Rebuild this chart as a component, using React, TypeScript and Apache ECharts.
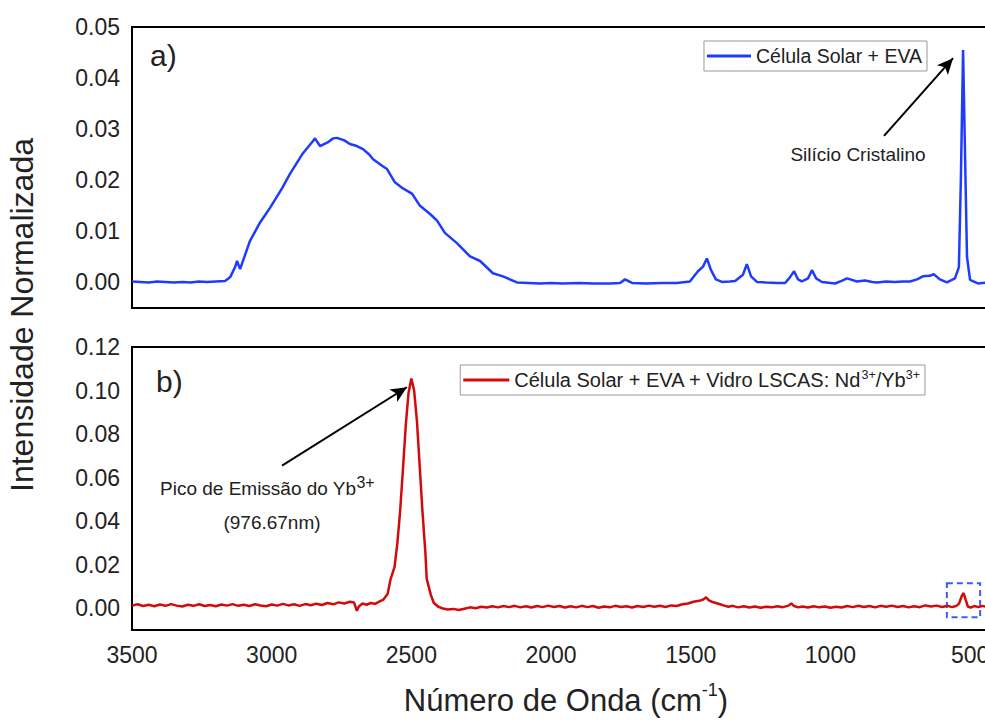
import React, { useEffect, useRef } from 'react';
import * as echarts from 'echarts';

const FONT = '"Liberation Sans", Arial, sans-serif';

const blueName = 'Célula Solar + EVA';
const redName = 'Célula Solar + EVA + Vidro LSCAS: Nd3+/Yb3+';

const xTicks = [3500, 3000, 2500, 2000, 1500, 1000, 500];
const topYTicks = [0, 0.01, 0.02, 0.03, 0.04, 0.05];
const bottomYTicks = [0, 0.02, 0.04, 0.06, 0.08, 0.1, 0.12];

// Top panel: Célula Solar + EVA (wavenumber, normalized intensity)
const blueData: [number, number][] = [
  [3500, 0.0002], [3470, 0.0001], [3440, 0.0000], [3410, 0.0002], [3380, 0.0001], [3350, 0.0000],
  [3320, 0.0001], [3290, 0.0000], [3260, 0.0002], [3230, 0.0001], [3200, 0.0002], [3167, 0.0003],
  [3149, 0.0010], [3131, 0.0030], [3124, 0.0042], [3113, 0.0026], [3078, 0.0081], [3042, 0.0117],
  [3006, 0.0146], [2963, 0.0184], [2934, 0.0213], [2888, 0.0253], [2852, 0.0277], [2845, 0.0282],
  [2827, 0.0267], [2800, 0.0274], [2780, 0.0282], [2766, 0.0283], [2740, 0.0278], [2720, 0.0271],
  [2695, 0.0267], [2673, 0.0261], [2650, 0.0250], [2637, 0.0241], [2601, 0.0227], [2587, 0.0222],
  [2559, 0.0196], [2530, 0.0184], [2498, 0.0174], [2469, 0.0150], [2433, 0.0134], [2408, 0.0121],
  [2380, 0.0097], [2337, 0.0077], [2290, 0.0051], [2254, 0.0042], [2208, 0.0018], [2172, 0.0012],
  [2122, 0.0000], [2080, -0.0001], [2040, -0.0002], [2000, -0.0001], [1960, -0.0002], [1900, -0.0001],
  [1850, -0.0002], [1789, -0.0002], [1753, -0.0001], [1735, 0.0006], [1710, -0.0001], [1660, -0.0002],
  [1600, -0.0001], [1550, -0.0001], [1503, 0.0002], [1474, 0.0022], [1456, 0.0031], [1442, 0.0047],
  [1428, 0.0025], [1410, 0.0006], [1388, 0.0001], [1360, 0.0002], [1341, 0.0003], [1313, 0.0015],
  [1299, 0.0036], [1284, 0.0012], [1263, 0.0001], [1230, 0.0000], [1190, -0.0001], [1162, -0.0001],
  [1145, 0.0010], [1130, 0.0022], [1116, 0.0006], [1102, 0.0002], [1080, 0.0008], [1066, 0.0024],
  [1051, 0.0008], [1030, 0.0001], [983, -0.0002], [960, 0.0003], [940, 0.0008], [905, 0.0002],
  [876, 0.0004], [850, 0.0001], [833, 0.0000], [800, 0.0002], [769, 0.0001], [740, 0.0002],
  [715, 0.0002], [690, 0.0006], [669, 0.0012], [644, 0.0013], [630, 0.0016], [608, 0.0006],
  [583, 0.0000], [554, 0.0008], [540, 0.0030], [533, 0.0200], [525, 0.0455], [518, 0.0250],
  [511, 0.0050], [500, 0.0005], [472, -0.0002], [440, 0.0000], [420, 0.0000], [400, 0.0000]
];

// Bottom panel: Célula Solar + EVA + Vidro LSCAS: Nd/Yb
const redData: [number, number][] = [
  [3500, 0.0012], [3480, 0.0018], [3460, 0.0010], [3440, 0.0016], [3420, 0.0009], [3400, 0.0017],
  [3380, 0.0011], [3360, 0.0019], [3340, 0.0012], [3320, 0.0008], [3300, 0.0016], [3280, 0.0011],
  [3260, 0.0018], [3240, 0.0010], [3220, 0.0015], [3200, 0.0009], [3180, 0.0017], [3160, 0.0012],
  [3140, 0.0019], [3120, 0.0011], [3100, 0.0016], [3080, 0.0010], [3060, 0.0018], [3040, 0.0013],
  [3020, 0.0009], [3000, 0.0017], [2980, 0.0012], [2960, 0.0020], [2940, 0.0013], [2920, 0.0018],
  [2900, 0.0011], [2880, 0.0019], [2860, 0.0014], [2840, 0.0021], [2820, 0.0015], [2800, 0.0024],
  [2780, 0.0018], [2760, 0.0027], [2740, 0.0022], [2720, 0.0030], [2705, 0.0026], [2695, -0.0012],
  [2688, 0.0008], [2675, 0.0022], [2660, 0.0016], [2645, 0.0024], [2630, 0.0020], [2615, 0.0030],
  [2600, 0.0040], [2585, 0.0065], [2575, 0.0130], [2560, 0.0190], [2550, 0.0300], [2540, 0.0450],
  [2530, 0.0640], [2520, 0.0840], [2510, 0.0990], [2500, 0.1055], [2490, 0.1000], [2480, 0.0860],
  [2470, 0.0650], [2460, 0.0440], [2450, 0.0260], [2445, 0.0135], [2430, 0.0060], [2420, 0.0025],
  [2405, 0.0008], [2390, 0.0000], [2370, -0.0006], [2350, -0.0003], [2330, -0.0008], [2310, -0.0002],
  [2290, 0.0004], [2270, 0.0000], [2250, 0.0007], [2230, 0.0003], [2210, 0.0009], [2190, 0.0004],
  [2170, 0.0010], [2150, 0.0005], [2130, 0.0011], [2110, 0.0004], [2090, 0.0009], [2070, 0.0003],
  [2050, 0.0010], [2030, 0.0005], [2010, 0.0012], [1990, 0.0006], [1970, 0.0010], [1950, 0.0003],
  [1930, 0.0009], [1910, 0.0004], [1890, 0.0011], [1870, 0.0005], [1850, 0.0010], [1830, 0.0002],
  [1810, 0.0008], [1790, 0.0004], [1770, 0.0011], [1750, 0.0006], [1730, 0.0009], [1710, 0.0003],
  [1690, 0.0010], [1670, 0.0006], [1650, 0.0012], [1630, 0.0007], [1610, 0.0011], [1590, 0.0006],
  [1570, 0.0013], [1550, 0.0010], [1530, 0.0018], [1510, 0.0022], [1490, 0.0030], [1470, 0.0034],
  [1455, 0.0040], [1445, 0.0050], [1435, 0.0036], [1425, 0.0030], [1410, 0.0024], [1395, 0.0018],
  [1380, 0.0012], [1365, 0.0007], [1350, 0.0011], [1330, 0.0004], [1310, 0.0009], [1290, 0.0003],
  [1270, 0.0008], [1250, 0.0002], [1230, 0.0007], [1210, 0.0004], [1190, 0.0009], [1170, 0.0005],
  [1150, 0.0012], [1140, 0.0022], [1130, 0.0010], [1115, 0.0004], [1100, 0.0008], [1080, 0.0003],
  [1060, 0.0009], [1040, 0.0004], [1020, 0.0008], [1000, 0.0002], [980, 0.0007], [960, 0.0003],
  [940, 0.0010], [920, 0.0005], [900, 0.0011], [880, 0.0006], [860, 0.0010], [840, 0.0004],
  [820, 0.0011], [800, 0.0007], [780, 0.0012], [760, 0.0006], [740, 0.0010], [720, 0.0004],
  [700, 0.0009], [680, 0.0005], [660, 0.0013], [640, 0.0008], [620, 0.0012], [600, 0.0006],
  [580, 0.0011], [565, 0.0005], [550, 0.0010], [540, 0.0020], [530, 0.0055], [523, 0.0070],
  [516, 0.0040], [508, 0.0008], [498, 0.0003], [485, 0.0010], [470, 0.0005], [455, 0.0011],
  [440, 0.0006], [420, 0.0009], [400, 0.0005]
];

// Annotation arrows (data coordinates): [from, to]
const siliconArrow: [number, number][] = [[808, 0.0287], [561, 0.0439]];
const ybArrow: [number, number][] = [[2963, 0.0655], [2516, 0.1015]];
// Highlight box around the Si peak in the bottom panel
const siBox: [number, number][] = [[583, 0.0115], [464, -0.0042]];

const BLUE = '#1e3cff';
const RED = '#d40a0a';

export default function App() {
  const ref = useRef<HTMLDivElement>(null);

  useEffect(() => {
    if (!ref.current) return;
    const chart = echarts.init(ref.current, undefined, { renderer: 'svg' });

    const xAxisBase = {
      type: 'value' as const,
      min: 400,
      max: 3500,
      inverse: true,
      minInterval: xTicks[0] - xTicks[1],
      maxInterval: xTicks[0] - xTicks[1],
      splitLine: { show: false },
      axisLine: { show: false },
      axisTick: { show: false },
    };

    const yLabel = {
      fontFamily: FONT,
      fontSize: 23,
      color: '#222',
      margin: 12,
      showMinLabel: false,
      formatter: (v: number) => v.toFixed(2),
    };

    const option: any = {
      animation: false,
      backgroundColor: '#fff',
      grid: [
        { left: 132, right: 22, top: 27, height: 281, show: true, borderColor: '#000', borderWidth: 2, backgroundColor: 'transparent' },
        { left: 132, right: 22, top: 347, height: 283, show: true, borderColor: '#000', borderWidth: 2, backgroundColor: 'transparent' },
      ],
      xAxis: [
        { ...xAxisBase, gridIndex: 0, axisLabel: { show: false } },
        {
          ...xAxisBase,
          gridIndex: 1,
          axisLabel: {
            fontFamily: FONT, fontSize: 23, color: '#222', margin: 13, showMinLabel: false,
            formatter: (v: number) => String(v),
          },
        },
      ],
      yAxis: [
        {
          type: 'value', gridIndex: 0, min: -0.005, max: topYTicks[topYTicks.length - 1],
          minInterval: topYTicks[1] - topYTicks[0], maxInterval: topYTicks[1] - topYTicks[0],
          splitLine: { show: false }, axisLine: { show: false }, axisTick: { show: false },
          axisLabel: yLabel,
        },
        {
          type: 'value', gridIndex: 1, min: -0.01, max: bottomYTicks[bottomYTicks.length - 1],
          minInterval: bottomYTicks[1] - bottomYTicks[0], maxInterval: bottomYTicks[1] - bottomYTicks[0],
          splitLine: { show: false }, axisLine: { show: false }, axisTick: { show: false },
          axisLabel: yLabel,
        },
      ],
      legend: [
        {
          data: [blueName],
          right: 93, top: 41,
          orient: 'horizontal',
          icon: 'rect',
          itemWidth: 44, itemHeight: 3, itemGap: 5,
          itemStyle: { color: BLUE },
          padding: [4, 5, 4, 3],
          borderColor: '#999', borderWidth: 1,
          textStyle: { fontFamily: FONT, fontSize: 19.5, color: '#222', lineHeight: 22 },
        },
        {
          data: [redName],
          right: 95, top: 365,
          orient: 'horizontal',
          icon: 'rect',
          itemWidth: 46, itemHeight: 3, itemGap: 5,
          itemStyle: { color: RED },
          padding: [3, 5, 3, 3],
          borderColor: '#999', borderWidth: 1,
          formatter: () => 'Célula Solar + EVA + Vidro LSCAS: Nd{sup|3+}/Yb{sup|3+}',
          textStyle: {
            fontFamily: FONT, fontSize: 20, color: '#222', lineHeight: 24,
            rich: { sup: { fontFamily: FONT, fontSize: 12.5, lineHeight: 12, verticalAlign: 'top', color: '#222' } },
          },
        },
      ],
      series: [
        {
          type: 'line', name: blueName, xAxisIndex: 0, yAxisIndex: 0,
          data: blueData, symbol: 'none', showSymbol: false,
          lineStyle: { color: BLUE, width: 2.5 }, itemStyle: { color: BLUE },
          markLine: {
            silent: true, symbol: ['none', 'arrow'], symbolSize: [11, 16],
            label: { show: false },
            lineStyle: { color: '#000', width: 2, type: 'solid' },
            data: [[{ coord: siliconArrow[0] }, { coord: siliconArrow[1] }]],
          },
        },
        {
          type: 'line', name: redName, xAxisIndex: 1, yAxisIndex: 1,
          data: redData, symbol: 'none', showSymbol: false,
          lineStyle: { color: RED, width: 2.5 }, itemStyle: { color: RED },
          markLine: {
            silent: true, symbol: ['none', 'arrow'], symbolSize: [11, 16],
            label: { show: false },
            lineStyle: { color: '#000', width: 2, type: 'solid' },
            data: [[{ coord: ybArrow[0] }, { coord: ybArrow[1] }]],
          },
          markArea: {
            silent: true,
            itemStyle: { color: 'rgba(0,0,0,0)', borderColor: '#3a5cff', borderWidth: 2, borderType: [6, 4] },
            data: [[{ coord: siBox[0] }, { coord: siBox[1] }]],
          },
        },
      ],
      graphic: [
        { type: 'text', left: 150, top: 40, style: { text: 'a)', font: `30px ${FONT}`, fill: '#222' } },
        { type: 'text', left: 156, top: 366, style: { text: 'b)', font: `30px ${FONT}`, fill: '#222' } },
        {
          type: 'text', x: 858, y: 154,
          style: { text: 'Silício Cristalino', font: `19px ${FONT}`, fill: '#222', align: 'center', verticalAlign: 'middle' },
        },
        {
          type: 'text', x: 160, y: 488,
          style: {
            text: 'Pico de Emissão do Yb{sup|3+}', fill: '#222', align: 'left', verticalAlign: 'middle',
            fontFamily: FONT, fontSize: 19, lineHeight: 28,
            rich: { sup: { fontFamily: FONT, fontSize: 16, lineHeight: 16, verticalAlign: 'top', fill: '#222' } },
          },
        },
        {
          type: 'text', x: 272, y: 522,
          style: { text: '(976.67nm)', font: `19px ${FONT}`, fill: '#222', align: 'center', verticalAlign: 'middle' },
        },
        {
          type: 'text', x: 566, y: 700,
          style: {
            text: 'Número de Onda (cm{sup|-1})', fill: '#222', align: 'center', verticalAlign: 'middle',
            fontFamily: FONT, fontSize: 31, lineHeight: 38,
            rich: { sup: { fontFamily: FONT, fontSize: 18, lineHeight: 20, verticalAlign: 'top', fill: '#222' } },
          },
        },
        {
          type: 'text', x: 22, y: 315, rotation: Math.PI / 2,
          style: { text: 'Intensidade Normalizada', font: `32px ${FONT}`, fill: '#222', align: 'center', verticalAlign: 'middle' },
        },
      ],
    };

    chart.setOption(option);
    return () => chart.dispose();
  }, []);

  return (
    <div style={{ position: 'fixed', left: 0, top: 0, width: 985, height: 720, overflow: 'hidden', background: '#fff' }}>
      <div ref={ref} style={{ width: 1020, height: 720 }} />
    </div>
  );
}
